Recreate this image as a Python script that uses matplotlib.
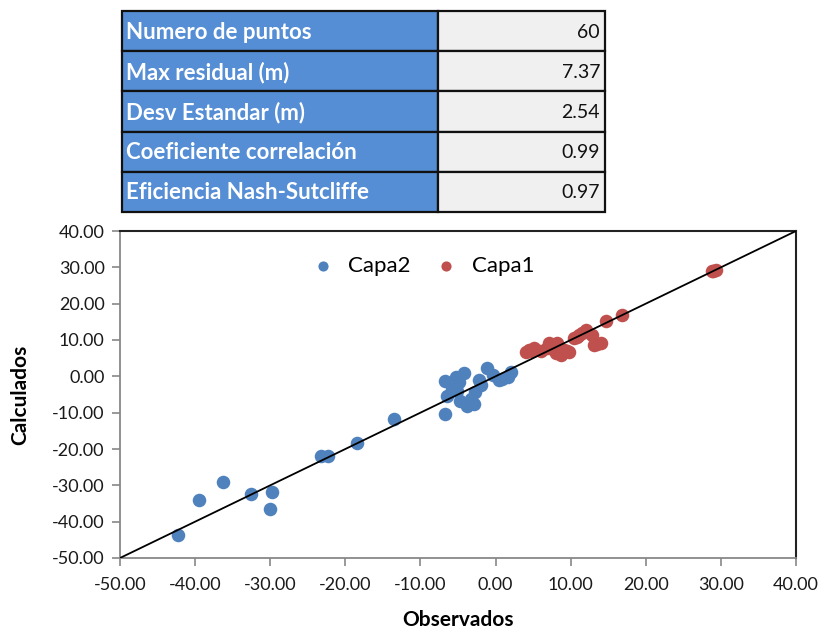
import matplotlib
matplotlib.use("Agg")
import matplotlib.pyplot as plt
from matplotlib.patches import Rectangle

plt.rcParams['font.family'] = ['Lato', 'DejaVu Sans']

# ---- data ----
capa2_obs = [-42.3, -39.5, -36.3, -32.5, -29.7, -30.0, -23.3, -22.3, -18.5, -13.5,
             -6.7, -4.2, -5.3, -4.9, -5.8, -5.1, -6.4, -4.7, -3.3, -2.9,
             -3.8, -6.7, -2.2, -2.0, -2.7, -1.1, -0.4, 0.4, 0.9, 2.0, 1.6]
capa2_calc = [-43.8, -33.9, -29.2, -32.5, -31.9, -36.4, -21.9, -21.9, -18.3, -11.7,
              -1.4, 1.0, -0.2, -1.6, -3.4, -3.9, -5.3, -6.7, -6.2, -7.6,
              -8.1, -10.4, -1.1, -2.5, -4.4, 2.3, 0.3, -1.1, -0.6, 1.2, -0.2]
capa1_obs = [4.4, 4.0, 5.1, 7.1, 6.9, 8.2, 7.8, 9.1, 9.8, 8.7,
             10.4, 11.1, 12.0, 12.9, 13.1, 14.0, 14.7, 16.9, 29.0, 29.3,
             6.0, 7.5, 8.0, 9.5, 11.5, 10.8, 4.8, 28.8, 13.5]
capa1_calc = [7.2, 6.75, 7.7, 9.1, 7.7, 9.1, 7.2, 7.2, 6.75, 5.8,
              10.5, 11.4, 12.8, 11.4, 8.6, 9.1, 15.1, 16.9, 28.9, 29.2,
              7.0, 8.0, 6.5, 7.0, 12.0, 10.9, 6.9, 28.9, 9.0]

stat_labels = ["Numero de puntos", "Max residual (m)", "Desv Estandar (m)",
               "Coeficiente correlación", "Eficiencia Nash-Sutcliffe"]
stat_values = ["60", "7.37", "2.54", "0.99", "0.97"]

ticks = [-50, -40, -30, -20, -10, 0, 10, 20, 30, 40]

BLUE = "#4F81BD"
RED = "#C0504D"

W, H = 822, 632
fig = plt.figure(figsize=(W / 100, H / 100), dpi=100)

# ---- table ----
tx0, tx1, tsplit, ty0, ty1 = 122, 605, 438, 11, 212
tax = fig.add_axes([0, 0, 1, 1])
tax.set_xlim(0, W)
tax.set_ylim(H, 0)
tax.axis('off')
rh = (ty1 - ty0) / len(stat_labels)
for i, (lab, val) in enumerate(zip(stat_labels, stat_values)):
    y = ty0 + i * rh
    tax.add_patch(Rectangle((tx0, y), tsplit - tx0, rh, facecolor="#558ED5",
                            edgecolor="#111111", lw=1.6))
    tax.add_patch(Rectangle((tsplit, y), tx1 - tsplit, rh, facecolor="#F0F0F0",
                            edgecolor="#111111", lw=1.6))
    tax.text(tx0 + 4, y + rh / 2 + 1, lab, color="white", fontsize=16,
             fontweight="bold", va="center", ha="left")
    tax.text(tx1 - 5, y + rh / 2 + 1, val, color="#111111", fontsize=14,
             va="center", ha="right")

# ---- scatter ----
left, right, top, bottom = 120, 796, 231, 558
ax = fig.add_axes([left / W, 1 - bottom / H, (right - left) / W, (bottom - top) / H])
ax.set_xlim(-50, 40)
ax.set_ylim(-50, 40)
ax.plot([-50, 40], [-50, 40], color="black", lw=1.3, zorder=3)
ax.scatter(capa2_obs, capa2_calc, s=95, color=BLUE, label="Capa2", zorder=2,
           linewidths=0)
ax.scatter(capa1_obs, capa1_calc, s=95, color=RED, label="Capa1", zorder=2,
           linewidths=0)

ax.set_xticks(ticks)
ax.set_yticks(ticks)
ax.set_xticklabels([f"{t:.2f}" for t in ticks])
ax.set_yticklabels([f"{t:.2f}" for t in ticks])
ax.tick_params(axis='both', direction='out', length=6, width=1.2, color="#888888",
               labelsize=13, labelcolor="#1a1a1a", pad=5)
ax.tick_params(axis='x', pad=8)
for s in ['left', 'bottom']:
    ax.spines[s].set_color("#888888")
    ax.spines[s].set_linewidth(1.3)
for s in ['top', 'right']:
    ax.spines[s].set_color("#222222")
    ax.spines[s].set_linewidth(1.5)

ax.set_xlabel("Observados", fontsize=15, fontweight="bold", labelpad=12)
ax.set_ylabel("Calculados", fontsize=15, fontweight="bold", labelpad=16)

leg = ax.legend(loc="upper center", bbox_to_anchor=(0.44, 0.985), ncol=2,
                frameon=False, fontsize=16, markerscale=0.75, handletextpad=0.15,
                columnspacing=0.6)

fig.savefig("out.png", dpi=100)
